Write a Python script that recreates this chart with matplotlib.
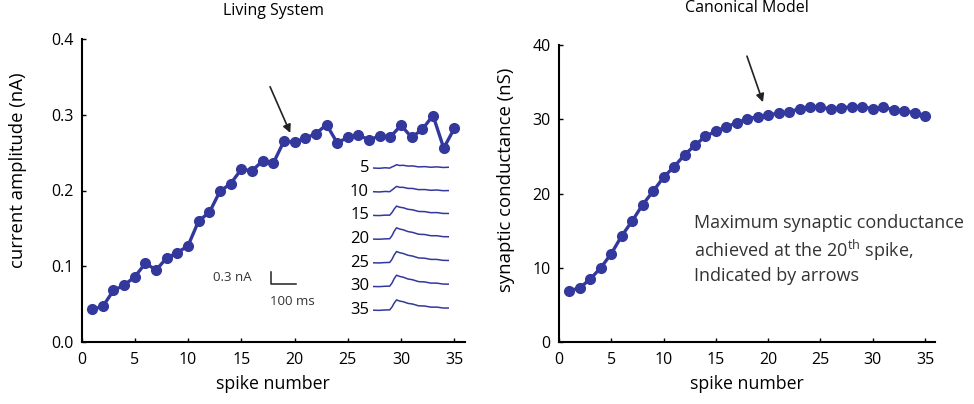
import matplotlib
matplotlib.use("Agg")
import matplotlib.pyplot as plt
import numpy as np

plt.rcParams['font.family'] = ['Open Sans', 'DejaVu Sans']
plt.rcParams['mathtext.fontset'] = 'custom'
plt.rcParams['mathtext.rm'] = 'Open Sans'

BLUE = '#33389c'

spikes = list(range(1, 36))
current_nA = [0.043, 0.047, 0.068, 0.075, 0.086, 0.104, 0.095, 0.111, 0.118, 0.127,
              0.160, 0.171, 0.199, 0.209, 0.228, 0.226, 0.239, 0.236, 0.265, 0.264,
              0.269, 0.275, 0.287, 0.263, 0.270, 0.273, 0.267, 0.272, 0.271, 0.286,
              0.270, 0.281, 0.299, 0.256, 0.282]
conductance_nS = [6.9, 7.3, 8.5, 10.0, 11.9, 14.3, 16.3, 18.5, 20.3, 22.2,
                  23.6, 25.2, 26.5, 27.7, 28.4, 29.0, 29.5, 30.1, 30.3, 30.6,
                  30.8, 31.0, 31.4, 31.7, 31.6, 31.4, 31.5, 31.7, 31.7, 31.4,
                  31.6, 31.3, 31.1, 30.9, 30.4]

# inset current traces (shape template, amplitude per labelled spike)
trace_labels = ['5', '10', '15', '20', '25', '30', '35']
trace_amp = [3, 5, 9, 11, 11, 11, 10]
trace_t = [0.0, 0.08, 0.16, 0.22, 0.25, 0.28, 0.31, 0.35, 0.40, 0.46, 0.52, 0.60,
           0.68, 0.76, 0.84, 0.92, 1.0]
trace_shape = [0.0, 0.02, 0.0, 0.06, 0.3, 0.75, 1.0, 0.95, 0.82, 0.7, 0.58, 0.47,
               0.4, 0.33, 0.28, 0.24, 0.2]
trace_wiggle = [0.0, 0.6, -0.4, 0.5, -0.3, 0.4, -0.5, 0.6, -0.4, 0.3, -0.6, 0.5,
                -0.3, 0.4, -0.5, 0.3, -0.2]

W, H = 974, 404
fig = plt.figure(figsize=(9.74, 4.04), dpi=100)


def style(ax):
    for s in ['top', 'right']:
        ax.spines[s].set_visible(False)
    for s in ['left', 'bottom']:
        ax.spines[s].set_linewidth(1.5)
    ax.tick_params(direction='in', length=3, width=1, labelsize=11.5)
    ax.tick_params(axis='x', pad=7)
    ax.tick_params(axis='y', pad=6)


# ---- Living System ----
ax1 = fig.add_axes([81.5 / W, 1 - 342 / H, 383.5 / W, 303 / H])
ax1.plot(spikes, current_nA, '-o', color=BLUE, lw=2.4, ms=7)
ax1.set_xlim(0, 36)
ax1.set_ylim(0, 0.4)
ax1.set_xticks(range(0, 36, 5))
ax1.set_yticks([0.0, 0.1, 0.2, 0.3, 0.4])
ax1.set_yticklabels(['0.0', '0.1', '0.2', '0.3', '0.4'])
style(ax1)
ax1.set_xlabel('spike number', fontsize=12.8, labelpad=5)
ax1.set_ylabel('current amplitude (nA)', fontsize=13.3)
ax1.yaxis.set_label_coords(-54 / 383.5, (342 - 170) / 303)
ax1.set_title('Living System', fontsize=11.5, pad=17)
ax1.annotate('', xy=(19.6, 0.276), xytext=(17.7, 0.337),
             arrowprops=dict(arrowstyle='-|>', color='#222222', lw=1.2,
                             mutation_scale=12, shrinkA=0, shrinkB=0))
# scale bar
ax1.plot([17.8, 17.8, 20.1], [0.0924, 0.0766, 0.0766], color='#222222', lw=1.1)
ax1.text(14.2, 0.0858, '0.3 nA', fontsize=9.5, color='#333333', ha='center', va='center')
ax1.text(19.8, 0.054, '100 ms', fontsize=9.5, color='#333333', ha='center', va='center')

# inset traces, pixel units
axi = fig.add_axes([373 / W, 1 - 322 / H, 76 / W, 164 / H])
axi.set_xlim(0, 1)
axi.set_ylim(322, 158)
axi.axis('off')
shape = np.array(trace_shape)
wig = np.array(trace_wiggle)
for i, (lab, amp) in enumerate(zip(trace_labels, trace_amp)):
    base = 168 + i * 23.7
    axi.plot(trace_t, base - amp * shape + wig * 0.6, color=BLUE, lw=1.1)
    fig.text(369 / W, 1 - base / H, lab, fontsize=12, ha='right', va='center')

# ---- Canonical Model ----
ax2 = fig.add_axes([559 / W, 1 - 342 / H, 376 / W, 297 / H])
ax2.plot(spikes, conductance_nS, '-o', color=BLUE, lw=2.4, ms=7)
ax2.set_xlim(0, 35.95)
ax2.set_ylim(0, 40)
ax2.set_xticks(range(0, 36, 5))
ax2.set_yticks([0, 10, 20, 30, 40])
style(ax2)
ax2.set_xlabel('spike number', fontsize=12.8, labelpad=5)
ax2.set_ylabel('synaptic conductance (nS)', fontsize=13.3)
ax2.yaxis.set_label_coords(-44 / 376, (342 - 180) / 297)
ax2.set_title('Canonical Model', fontsize=11.5, pad=24)
ax2.annotate('', xy=(19.5, 32.3), xytext=(17.97, 38.5),
             arrowprops=dict(arrowstyle='-|>', color='#222222', lw=1.2,
                             mutation_scale=12, shrinkA=0, shrinkB=0))
ax2.text(12.9, 17.2, 'Maximum synaptic conductance\n'
         'achieved at the 20$^{\\rm th}$ spike,\nIndicated by arrows',
         fontsize=13, color='#333333', ha='left', va='top', linespacing=1.3,
         transform=ax2.transData)

fig.savefig('out.png', dpi=100)
